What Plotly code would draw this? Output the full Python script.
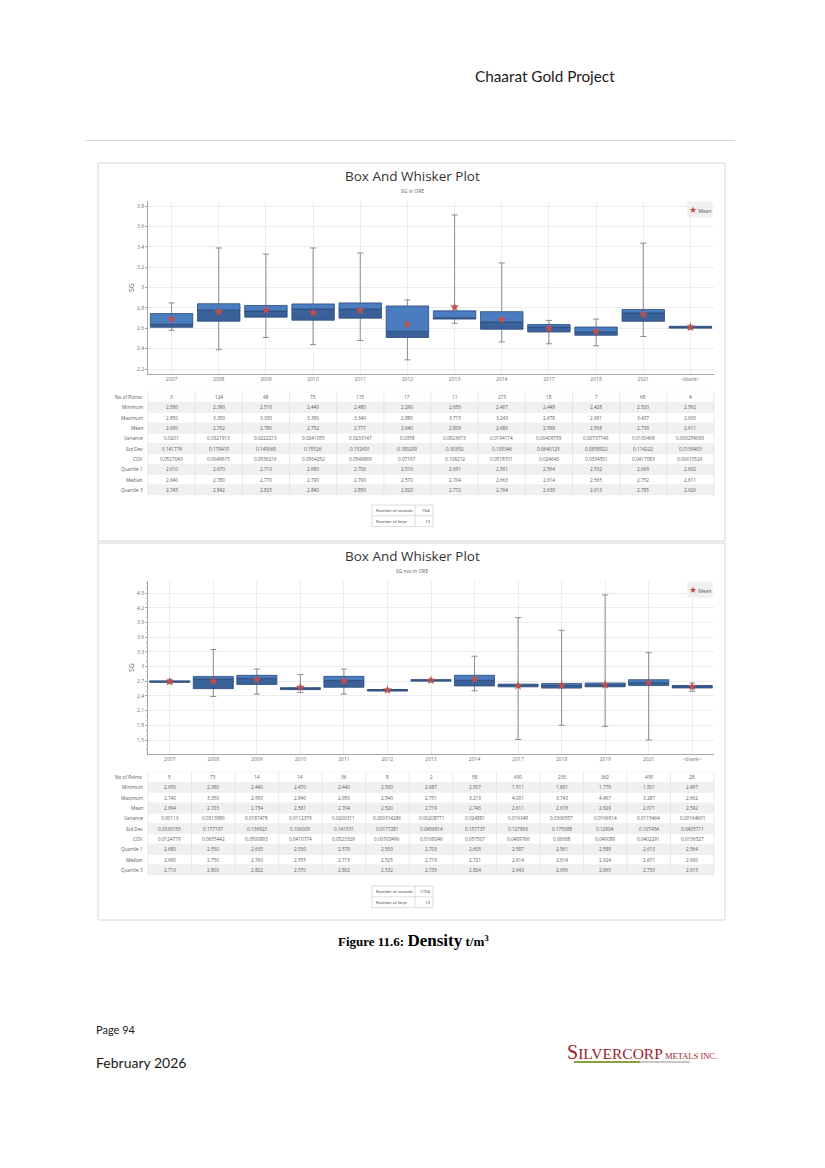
import plotly.graph_objects as go

# page body has an 8px margin: figure is placed at (8, 8)
OFF = 8
W, H = 825 - OFF, 1168 - OFF
def px(x): return (x - OFF) / W
def py(y): return 1 - (y - OFF) / H

# ---------------- data: SG in ORE ----------------
cats1 = ["2007", "2008", "2009", "2010", "2011", "2012", "2013", "2014", "2017", "2018", "2021", "<blank>"]
n1 = [3, 124, 48, 75, 115, 17, 11, 273, 18, 7, 68, 4]
min1 = [2.580, 2.390, 2.510, 2.440, 2.480, 2.290, 2.650, 2.467, 2.448, 2.428, 2.520, 2.592]
max1 = [2.850, 3.390, 3.330, 3.390, 3.340, 2.880, 3.715, 3.243, 2.678, 2.691, 3.437, 2.630]
mean1 = [2.690, 2.762, 2.780, 2.752, 2.777, 2.640, 2.809, 2.686, 2.598, 2.568, 2.739, 2.611]
var1 = [0.0201, 0.0321913, 0.0222213, 0.0241055, 0.0233147, 0.0358, 0.0923673, 0.0194174, 0.00409759, 0.00737746, 0.0130468, 0.000254093]
std1 = [0.141774, 0.179419, 0.149068, 0.15526, 0.152691, 0.189209, 0.30392, 0.139346, 0.0640125, 0.0858922, 0.114222, 0.0159403]
cov1 = [0.0527043, 0.0649615, 0.0536216, 0.0564252, 0.0549869, 0.07167, 0.108212, 0.0518701, 0.024643, 0.0334501, 0.0417083, 0.00610526]
q1_1 = [2.610, 2.670, 2.710, 2.680, 2.700, 2.510, 2.691, 2.591, 2.564, 2.532, 2.669, 2.602]
med1 = [2.640, 2.780, 2.770, 2.790, 2.790, 2.570, 2.704, 2.663, 2.614, 2.565, 2.752, 2.611]
q3_1 = [2.745, 2.842, 2.825, 2.840, 2.850, 2.820, 2.772, 2.764, 2.638, 2.613, 2.785, 2.620]
records1, keys1 = 764, 13

# ---------------- data: SG not in ORE ----------------
cats2 = ["2007", "2008", "2009", "2010", "2011", "2012", "2013", "2014", "2017", "2018", "2019", "2021", "<blank>"]
n2 = [5, 75, 14, 14, 36, 8, 2, 58, 430, 233, 362, 439, 28]
min2 = [2.650, 2.390, 2.440, 2.470, 2.440, 2.500, 2.687, 2.507, 1.511, 1.801, 1.779, 1.501, 2.497]
max2 = [2.740, 3.350, 2.950, 2.840, 2.950, 2.540, 2.751, 3.213, 4.001, 3.743, 4.467, 3.287, 2.662]
mean2 = [2.694, 2.703, 2.734, 2.581, 2.704, 2.520, 2.719, 2.743, 2.611, 2.618, 2.629, 2.671, 2.592]
var2 = [0.00113, 0.0313986, 0.0187478, 0.0112379, 0.0200311, 0.000314286, 0.00208771, 0.024881, 0.016349, 0.0306557, 0.0166514, 0.0115464, 0.00164601]
std2 = [0.0336155, 0.177197, 0.136923, 0.106009, 0.141531, 0.0177281, 0.0456914, 0.157737, 0.127863, 0.175088, 0.12904, 0.107454, 0.0405711]
cov2 = [0.0124779, 0.0655442, 0.0500893, 0.0410774, 0.0523329, 0.00703496, 0.0168046, 0.057507, 0.0489766, 0.06688, 0.049089, 0.0402291, 0.0156527]
q1_2 = [2.680, 2.550, 2.635, 2.530, 2.578, 2.500, 2.703, 2.605, 2.587, 2.561, 2.588, 2.613, 2.564]
med2 = [2.690, 2.750, 2.760, 2.555, 2.715, 2.525, 2.719, 2.721, 2.614, 2.614, 2.624, 2.671, 2.600]
q3_2 = [2.710, 2.800, 2.822, 2.570, 2.802, 2.532, 2.735, 2.824, 2.643, 2.656, 2.665, 2.733, 2.615]
records2, keys2 = 1704, 13

row_labels = ["No of Points", "Minimum", "Maximum", "Mean", "Variance", "Std Dev",
              "COV", "Quartile 1", "Median", "Quartile 3"]

LIGHT = "#4a7dc0"
DARK = "#3a6199"
OUTLINE = "#2b4b78"
NAVY = "#1c3557"
WHISK = "#8c8c8c"
STAR = "#c0504d"
TXT = "#5a5a5a"
FONT = "Open Sans"
TFS = 4.7  # table font size

PLOT_L, PLOT_R = 148, 714
PLOT_W = PLOT_R - PLOT_L

fig = go.Figure()

def add_chart(cats, mins, maxs, means, q1s, meds, q3s, xa, ya, bw):
    # whiskers, drawn in the bar layer so the boxes cover them
    fig.add_trace(go.Bar(
        x=cats, y=meds, width=bw, xaxis=xa, yaxis=ya,
        marker=dict(color="rgba(0,0,0,0)", line=dict(width=0)),
        error_y=dict(type="data", symmetric=False,
                     array=[mx - md for mx, md in zip(maxs, meds)],
                     arrayminus=[md - mn for md, mn in zip(meds, mins)],
                     color=WHISK, thickness=1, width=3),
        hoverinfo="skip", showlegend=False))
    # Q1 -> median
    fig.add_trace(go.Bar(
        x=cats, y=[md - q for md, q in zip(meds, q1s)], base=q1s, width=bw,
        xaxis=xa, yaxis=ya,
        marker=dict(color=DARK, line=dict(color=OUTLINE, width=0.8)),
        showlegend=False))
    # median -> Q3
    fig.add_trace(go.Bar(
        x=cats, y=[q - md for q, md in zip(q3s, meds)], base=meds, width=bw,
        xaxis=xa, yaxis=ya,
        marker=dict(color=LIGHT, line=dict(color=OUTLINE, width=0.8)),
        showlegend=False))
    # median line spanning the box width
    fig.add_trace(go.Scatter(
        x=cats, y=meds, mode="markers", xaxis=xa, yaxis=ya,
        marker=dict(size=1, color="rgba(0,0,0,0)"),
        error_x=dict(type="constant", value=bw / 2, color=NAVY, thickness=1.8, width=0),
        hoverinfo="skip", showlegend=False))
    # mean
    fig.add_trace(go.Scatter(
        x=cats, y=means, mode="markers", xaxis=xa, yaxis=ya, name="Mean",
        marker=dict(symbol="star", size=7, color=STAR, line=dict(width=0)),
        showlegend=False))

add_chart(cats1, min1, max1, mean1, q1_1, med1, q3_1, "x", "y", 0.9)
add_chart(cats2, min2, max2, mean2, q1_2, med2, q3_2, "x2", "y2", 0.92)

axis_common = dict(showline=True, linecolor="#a6a6a6", linewidth=1, showgrid=True,
                   gridcolor="#ececec", gridwidth=1, zeroline=False,
                   tickfont=dict(family=FONT, size=5, color="#707070"))

fig.update_layout(
    width=W, height=H, margin=dict(l=0, r=0, t=0, b=0),
    paper_bgcolor="white", plot_bgcolor="white",
    barmode="overlay", showlegend=False,
    xaxis=dict(domain=[px(PLOT_L), px(PLOT_R)], anchor="y", type="category",
               categoryorder="array", categoryarray=cats1, range=[-0.5, len(cats1) - 0.5],
               ticks="", **axis_common),
    yaxis=dict(domain=[py(374), py(201)], anchor="x", range=[2.151, 3.852],
               tick0=2.2, dtick=0.2, ticks="outside", ticklen=2, tickcolor="#a6a6a6",
               **axis_common),
    xaxis2=dict(domain=[px(PLOT_L), px(PLOT_R)], anchor="y2", type="category",
                categoryorder="array", categoryarray=cats2, range=[-0.5, len(cats2) - 0.5],
                ticks="", **axis_common),
    yaxis2=dict(domain=[py(754), py(581)], anchor="x2", range=[1.214, 4.751],
                tick0=1.5, dtick=0.3, ticks="outside", ticklen=2, tickcolor="#a6a6a6",
                minor=dict(ticks="outside", ticklen=1.5, dtick=0.1, tickcolor="#bdbdbd", showgrid=False),
                **axis_common),
)

ann = []
shapes = []

def text(x, y, t, size, color="#222", family=FONT, xanchor="center", **kw):
    ann.append(dict(x=px(x), y=py(y), xref="paper", yref="paper", text=t, showarrow=False,
                    xanchor=xanchor, yanchor="middle",
                    font=dict(family=family, size=size, color=color), **kw))

def line(x0, y0, x1, y1, color, width=1):
    shapes.append(dict(type="line", xref="paper", yref="paper", x0=px(x0), x1=px(x1),
                       y0=py(y0), y1=py(y1), line=dict(color=color, width=width)))

def rect(x0, y0, x1, y1, fill=None, color=None, width=1, layer="below"):
    shapes.append(dict(type="rect", xref="paper", yref="paper", x0=px(x0), x1=px(x1),
                       y0=py(y1), y1=py(y0), layer=layer,
                       fillcolor=fill if fill else "rgba(0,0,0,0)",
                       line=dict(color=color if color else "rgba(0,0,0,0)", width=width if color else 0)))

def fmt3(v): return f"{v:.3f}"
def fmtg(v): return f"{v:.6g}"

def add_table(cats, n, mins, maxs, means, var, std, cov, q1s, meds, q3s, ytop, rh=10.3):
    ncat = len(cats)
    cw = PLOT_W / ncat
    cols = [[str(n[i]), fmt3(mins[i]), fmt3(maxs[i]), fmt3(means[i]),
             fmtg(var[i]), fmtg(std[i]), fmtg(cov[i]),
             fmt3(q1s[i]), fmt3(meds[i]), fmt3(q3s[i])] for i in range(ncat)]
    nrow = len(row_labels)
    ybot = ytop + nrow * rh
    for r, lab in enumerate(row_labels):
        y0 = ytop + r * rh
        if r % 2 == 1:
            rect(PLOT_L, y0, PLOT_R, y0 + rh, fill="#f0f0f0")
        yc = y0 + rh / 2
        text(145, yc, lab, TFS, TXT, xanchor="right")
        for c in range(ncat):
            text(PLOT_L + (c + 0.5) * cw, yc, cols[c][r], TFS, TXT)
    for r in range(nrow + 1):
        line(PLOT_L, ytop + r * rh, PLOT_R, ytop + r * rh, "#ebebeb", 0.5)
    for k in range(ncat + 1):
        line(PLOT_L + k * cw, ytop, PLOT_L + k * cw, ybot, "#dcdcdc", 0.6)

def add_records(rec, keys, ytop, rh=10.8):
    x0, xm, x1 = 372, 415, 433
    rect(x0, ytop, x1, ytop + 2 * rh, color="#cfcfcf", width=0.7)
    line(x0, ytop + rh, x1, ytop + rh, "#cfcfcf", 0.7)
    line(xm, ytop, xm, ytop + 2 * rh, "#cfcfcf", 0.7)
    text(x0 + 2, ytop + rh / 2, "Number of records", 4.4, TXT, "Roboto", xanchor="left")
    text(x0 + 2, ytop + 1.5 * rh, "Number of keys", 4.4, TXT, "Roboto", xanchor="left")
    text(x1 - 1.5, ytop + rh / 2, str(rec), 4.4, TXT, "Roboto", xanchor="right")
    text(x1 - 1.5, ytop + 1.5 * rh, str(keys), 4.4, TXT, "Roboto", xanchor="right")

add_table(cats1, n1, min1, max1, mean1, var1, std1, cov1, q1_1, med1, q3_1, 392)
add_table(cats2, n2, min2, max2, mean2, var2, std2, cov2, q1_2, med2, q3_2, 772)
add_records(records1, keys1, 505)
add_records(records2, keys2, 886)

text(545, 76, "Chaarat Gold Project", 15.3, "#1a1a1a", "Lato")
text(412, 176, "Box And Whisker Plot", 13.5, "#333333")
text(412, 191, "SG in ORE", 5, "#666666")
text(412, 556, "Box And Whisker Plot", 13.5, "#333333")
text(412, 571, "SG not in ORE", 5, "#666666")
# y-axis titles
text(131, 287, "SG", 7, "#595959", textangle=-90)
text(131, 667, "SG", 7, "#595959", textangle=-90)
for ly in (209.5, 589.5):
    text(713, ly, f"<span style='color:{STAR};font-size:9px'>★</span> Mean", 5, "#555555",
         xanchor="right", bgcolor="#f0f0f0", borderpad=1)
text(413, 940, "<b>Figure 11.6: <span style='font-size:17px'>Density</span> t/m<sup>3</sup></b>",
     13, "#000000", "Liberation Serif")
text(94, 1029, "Page 94", 11, "#1a1a1a", "Lato", xanchor="left")
text(94, 1062, "February 2026", 14, "#1a1a1a", "Lato", xanchor="left")
text(565, 1052, "<span style='font-size:20px'>S</span>ILVERCORP<span style='font-size:8.5px'> METALS INC.</span>",
     15.5, "#9a2230", "Liberation Serif", xanchor="left")

line(85, 140.5, 735, 140.5, "#d9d9d9", 1)
rect(98, 163, 725, 541, color="#d6d6d6", width=1)
rect(98, 543, 725, 920, color="#d6d6d6", width=1)
line(574, 1062, 640, 1062, "#8f9c3e", 2)
line(640, 1062, 690, 1062, "#c8c8c8", 2)

fig.update_layout(annotations=ann, shapes=shapes)

fig.write_html("out.html")
